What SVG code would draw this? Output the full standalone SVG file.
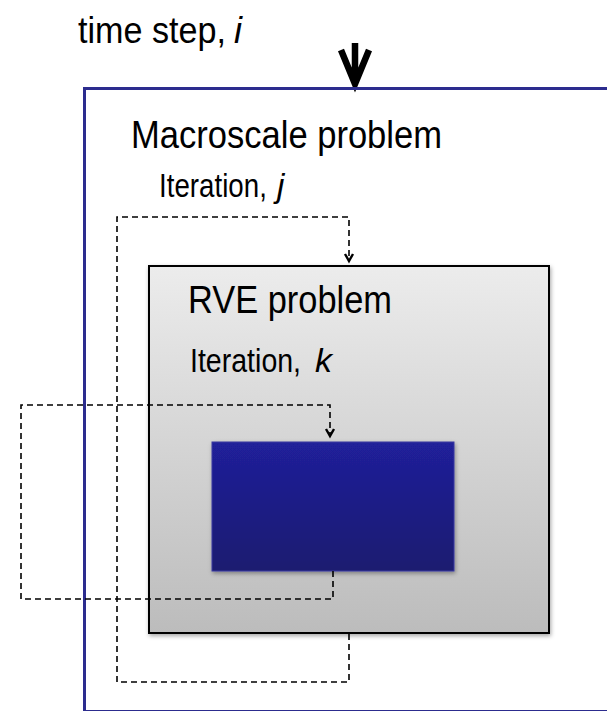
<svg xmlns="http://www.w3.org/2000/svg" width="607" height="711" viewBox="0 0 607 711">
<style>
.t{font-family:"Liberation Sans",Arial,sans-serif;fill:#000}
.it{font-style:italic}
.d{fill:none;stroke:#000;stroke-width:1.6;stroke-dasharray:6,4}
.ah{fill:none;stroke:#000;stroke-width:2.4}
</style>
<defs>
<linearGradient id="gGray" x1="0" y1="0" x2="0" y2="1">
<stop offset="0" stop-color="#ececec"/>
<stop offset="1" stop-color="#bcbcbc"/>
</linearGradient>
<linearGradient id="gBlue" x1="0" y1="0" x2="0" y2="1">
<stop offset="0" stop-color="#20209a"/>
<stop offset="1" stop-color="#1b1a70"/>
</linearGradient>
<filter id="sh" x="-10%" y="-10%" width="120%" height="120%">
<feDropShadow dx="1" dy="2" stdDeviation="2" flood-color="#000" flood-opacity="0.35"/>
</filter>
</defs>
<rect width="607" height="711" fill="#fff"/>
<g id="time-step">
<text class="t" x="78" y="43" font-size="36" textLength="148" lengthAdjust="spacingAndGlyphs">time step,</text>
<text class="t it" x="234" y="43" font-size="36">i</text>
<path d="M355,43 V84 M341,50 L355,84 L369,50" fill="none" stroke="#000" stroke-width="6.5" stroke-linejoin="miter"/>
</g>
<g id="macroscale">
<rect x="84.5" y="88.5" width="560" height="623" fill="none" stroke="#2c2c8e" stroke-width="3"/>
<text class="t" x="131" y="148" font-size="38" textLength="311" lengthAdjust="spacingAndGlyphs">Macroscale problem</text>
<text class="t" transform="translate(159 197) scale(0.84 1)" x="0" y="0" font-size="33">Iteration,</text>
<text class="t it" x="277" y="197" font-size="33">j</text>
</g>
<g id="rve">
<rect x="149" y="266" width="400" height="367" fill="url(#gGray)" stroke="#000" stroke-width="2" filter="url(#sh)"/>
<text class="t" x="188" y="313" font-size="38" textLength="204" lengthAdjust="spacingAndGlyphs">RVE problem</text>
<text class="t" transform="translate(190 372) scale(0.84 1)" x="0" y="0" font-size="34">Iteration,</text>
<text class="t it" x="315" y="372" font-size="34">k</text>
</g>
<g id="inner">
<rect x="212" y="442" width="242" height="129" fill="url(#gBlue)" stroke="#3a3aa0" stroke-width="1" filter="url(#sh)"/>
</g>
<g id="connectors">
<path class="d" d="M349,634 V682 H117 V217 H349 V259"/>
<path class="ah" d="M345,254 L349,261 L353,254"/>
<path class="d" d="M333,571 V599 H21 V405 H330 V435"/>
<path class="ah" d="M326,429 L330,436 L334,429"/>
</g>
</svg>
